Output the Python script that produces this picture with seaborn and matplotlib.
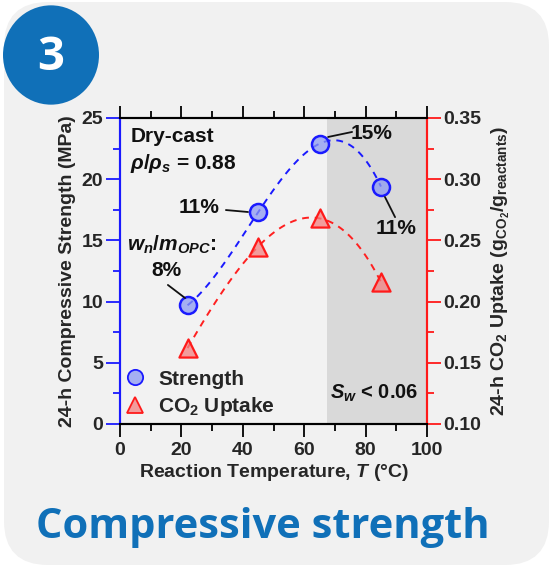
import numpy as np
import pandas as pd
import matplotlib
matplotlib.use("Agg")
import matplotlib.pyplot as plt
from matplotlib.patches import FancyBboxPatch, Circle
from matplotlib.ticker import MultipleLocator
from matplotlib.lines import Line2D
import seaborn as sns

# ---- data ----
temperature = [22, 45, 65, 85]
strength = [9.7, 17.3, 22.9, 19.4]
co2_uptake = [0.162, 0.245, 0.268, 0.216]
wn_labels = ["8%", "11%", "15%", "11%"]

sns.set_theme(style="white")
plt.rcParams['font.family'] = ['Liberation Sans', 'DejaVu Sans']
plt.rcParams['mathtext.fontset'] = 'custom'
plt.rcParams['mathtext.rm'] = 'Liberation Sans:bold'
plt.rcParams['mathtext.it'] = 'Liberation Sans:bold:italic'
plt.rcParams['mathtext.bf'] = 'Liberation Sans:bold'

W, H = 551, 570
fig = plt.figure(figsize=(W / 100, H / 100), dpi=100)
fig.patch.set_facecolor("white")

# panel background
panel = FancyBboxPatch((4 / W, 5 / H), (W - 6) / W, (H - 7) / H,
                       boxstyle="round,pad=0,rounding_size=0.08",
                       transform=fig.transFigure, facecolor="#f1f1f1",
                       edgecolor="none", zorder=-2, mutation_aspect=W / H)
fig.patches.append(panel)

# blue badge
badge = Circle((51 / W, 1 - 55 / H), 48 / W, transform=fig.transFigure,
               facecolor="#1070b8", edgecolor="none", zorder=-1)
fig.patches.append(badge)
fig.text(51 / W, 1 - 57 / H, "3", color="white", fontsize=34, fontweight="bold",
         family="Open Sans", ha="center", va="center", zorder=2)

# axes
left, right, top, bottom = 120, 427, 118, 424
ax = fig.add_axes([left / W, 1 - bottom / H, (right - left) / W, (bottom - top) / H])
ax.set_facecolor("#f2f2f2")
ax2 = ax.twinx()

ax.axvspan(67.5, 100, color="#d9d9d9", zorder=0, lw=0)

# smooth curves through the points
xs = np.linspace(temperature[0], temperature[-1], 120)
ps = np.polyfit(temperature, strength, 3)
pc = np.polyfit(temperature, co2_uptake, 3)
df_fit = pd.DataFrame({"T": xs, "S": np.polyval(ps, xs), "C": np.polyval(pc, xs)})
sns.lineplot(data=df_fit, x="T", y="S", ax=ax, color="#1a1aff", lw=1.4,
             linestyle=(0, (3.5, 3)), zorder=3)
sns.lineplot(data=df_fit, x="T", y="C", ax=ax2, color="#ff2020", lw=1.4,
             linestyle=(0, (3.5, 3)), zorder=3)

circ_fc = (0.55, 0.6, 0.95, 0.75)
tri_fc = (0.95, 0.5, 0.5, 0.75)
df = pd.DataFrame({"T": temperature, "S": strength, "C": co2_uptake})
sns.scatterplot(data=df, x="T", y="S", ax=ax, s=150, marker="o",
                facecolor=circ_fc, edgecolor="#1a1aff",
                linewidth=1.8, zorder=4)
sns.scatterplot(data=df, x="T", y="C", ax=ax2, s=170, marker="^",
                facecolor=tri_fc, edgecolor="#ff1a1a",
                linewidth=1.6, zorder=4)

ax.set_xlim(0, 100)
ax.set_ylim(0, 25)
ax2.set_ylim(0.10, 0.35)

# ticks
ax.xaxis.set_major_locator(MultipleLocator(20))
ax.xaxis.set_minor_locator(MultipleLocator(10))
ax.yaxis.set_major_locator(MultipleLocator(5))
ax.yaxis.set_minor_locator(MultipleLocator(2.5))
ax2.yaxis.set_major_locator(MultipleLocator(0.05))
ax2.yaxis.set_minor_locator(MultipleLocator(0.025))
ax2.yaxis.set_major_formatter(matplotlib.ticker.FormatStrFormatter("%.2f"))

ax.tick_params(axis="x", which="both", direction="out", top=True, bottom=True,
               labelsize=14, width=1.3, color="black", pad=4)
ax.tick_params(axis="x", which="major", length=9)
ax.tick_params(axis="x", which="minor", length=5)
ax.tick_params(axis="y", which="both", direction="out", left=True, right=False,
               labelsize=14, width=1.3, color="#1a1aff", pad=2)
ax.tick_params(axis="y", which="major", length=10)
ax.tick_params(axis="y", which="minor", length=5)
ax2.tick_params(axis="y", which="both", direction="out", right=True, left=False,
                labelsize=14, width=1.3, color="#ff1a1a", pad=2)
ax2.tick_params(axis="y", which="major", length=10)
ax2.tick_params(axis="y", which="minor", length=5)
for a in (ax, ax2):
    for lab in a.get_xticklabels() + a.get_yticklabels():
        lab.set_fontweight("bold")

for a in (ax, ax2):
    for s in a.spines.values():
        s.set_visible(True)
        s.set_linewidth(1.5)
    a.spines["top"].set_color("black")
    a.spines["bottom"].set_color("black")
    a.spines["left"].set_color("#1a1aff")
    a.spines["right"].set_color("#ff1a1a")

ax.set_xlabel("Reaction Temperature, $\\mathit{T}$ (°C)", fontsize=14,
              fontweight="bold", labelpad=2)
ax.set_ylabel("24-h Compressive Strength (MPa)", fontsize=14, fontweight="bold",
              labelpad=4)
ax2.set_ylabel("24-h CO$_2$ Uptake (g$_{\\mathrm{CO_2}}$/g$_{\\mathrm{reactants}}$)",
               fontsize=14, fontweight="bold", labelpad=6, rotation=90)

# annotations
tk = dict(fontsize=15, fontweight="bold", color="#111111")
ax.text(3.3, 23.45, "Dry-cast", **tk, va="center")
ax.text(3.3, 21.3, "$\\mathit{\\rho/\\rho_s}$ = 0.88", **tk, va="center")
ax.text(2.3, 14.6, "$\\mathit{w_{n}/m_{OPC}}$:", **tk, va="center")
ax.text(15.0, 12.58, wn_labels[0], **tk, va="center", ha="center")
ax.text(25.7, 17.65, wn_labels[1], **tk, va="center", ha="center")
ax.text(81.8, 23.77, wn_labels[2], **tk, va="center", ha="center")
ax.text(89.9, 16.0, wn_labels[3], **tk, va="center", ha="center")
lk = dict(color="#111111", lw=1.3, zorder=5)
ax.plot([15.6, 21.2], [11.36, 10.29], **lk)
ax.plot([34.5, 41.7], [17.48, 17.32], **lk)
ax.plot([67.8, 75.6], [23.45, 23.86], **lk)
ax.plot([86.3, 89.6], [18.55, 16.9], **lk)
ax.text(68.5, 2.53, "$\\mathit{S_w}$ < 0.06", fontsize=14.5, fontweight="bold",
        color="#111111", va="center")

# legend (manual handles)
handles = [Line2D([], [], marker="o", ls="none", ms=11, mfc=circ_fc,
                  mec="#1a1aff", mew=1.3, label="Strength"),
           Line2D([], [], marker="^", ls="none", ms=11, mfc=tri_fc,
                  mec="#ff1a1a", mew=1.3, label="CO$_2$ Uptake")]
leg = ax2.legend(handles=handles, loc="lower left", frameon=False,
                 prop={"size": 15, "weight": "bold"}, handlelength=1.0,
                 handletextpad=0.6, borderaxespad=0, borderpad=0,
                 labelspacing=0.3, bbox_to_anchor=(0.015, 0.02))

fig.text(263 / W, 1 - 528 / H, "Compressive strength", color="#1070b8",
         fontsize=30, fontweight="bold", family="Open Sans", ha="center", va="center")

fig.savefig("out.png", dpi=100, facecolor="white")
